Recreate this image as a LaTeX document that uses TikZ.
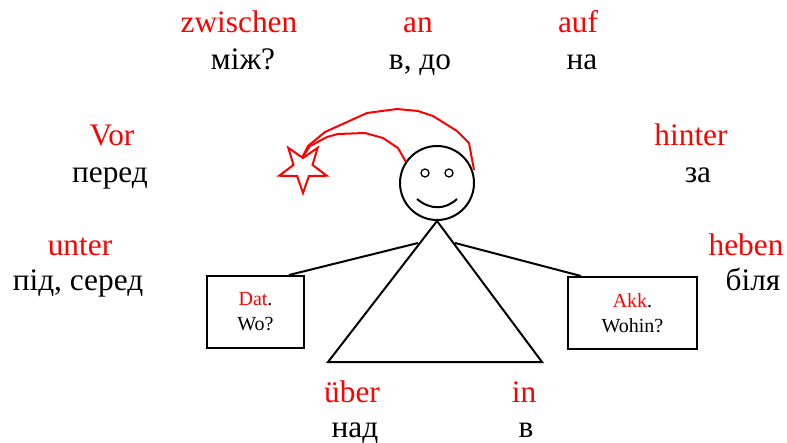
\documentclass[tikz,border=0pt]{standalone}
\usepackage{fontspec}
\setmainfont{Liberation Serif}
\usetikzlibrary{shapes.geometric}

\tikzset{
  de/.style={anchor=base, text=red, font=\fontsize{23.5}{28}\selectfont},
  ua/.style={anchor=base, font=\fontsize{23.5}{28}\selectfont},
  casebox/.style={draw, line width=1.5pt, align=center, inner sep=0pt,
    minimum height=54pt, font=\fontsize{15}{18.75}\selectfont},
}

\begin{document}
\begin{tikzpicture}[x=0.75pt, y=-0.75pt, line width=1.5pt]
  \useasboundingbox (0,0) rectangle (787,442);

  % prepositions, German above and Ukrainian below
  \node[de] (zwischen) at (239,33) {zwischen};
  \node[ua] (mizh) at (243,70) {між?};
  \node[de] (an) at (418,33) {an};
  \node[ua] (vdo) at (420,70) {в, до};
  \node[de] (auf) at (578,33) {auf};
  \node[ua] (na) at (582,70) {на};
  \node[de] (vor) at (112,145) {Vor};
  \node[ua] (pered) at (110,182) {перед};
  \node[de] (hinter) at (691,145) {hinter};
  \node[ua] (za) at (698,182) {за};
  \node[de] (unter) at (80,255) {unter};
  \node[ua] (pid) at (78,290) {під, серед};
  \node[de] (heben) at (746,255) {heben};
  \node[ua] (bilia) at (753,290) {біля};
  \node[de] (ueber) at (352,402) {über};
  \node[ua] (nad) at (355,437) {над};
  \node[de] (in) at (524,402) {in};
  \node[ua] (v) at (526,437) {в};

  % the little man
  \node[circle, draw, inner sep=0pt, minimum size=55.5pt] (head) at (437,183) {};
  \node[circle, draw, line width=1pt, inner sep=0pt, minimum size=6pt] (leye) at (425,173) {};
  \node[circle, draw, line width=1pt, inner sep=0pt, minimum size=6pt] (reye) at (449,173) {};
  \draw (417,199) .. controls (430,210) and (445,210) .. (457,199);
  \coordinate (lfoot) at (328,362);
  \coordinate (rfoot) at (542,362);
  \draw (head.south) -- (lfoot) -- (rfoot) -- cycle;
  \coordinate (lhand) at (418,243);
  \coordinate (rhand) at (455,243);

  % the two cases
  \node[casebox, minimum width=72.75pt] (dat) at (255.5,312) {\textcolor{red}{Dat}.\\Wo?};
  \node[casebox, minimum width=96.75pt] (akk) at (632.5,313) {\textcolor{red}{Akk}.\\Wohin?};
  \draw (lhand) -- ([xshift=-12pt]dat.north east);
  \draw (rhand) -- ([xshift=10.5pt]akk.north west);

  % star with its tail
  \node[star, star points=5, star point ratio=2.5, shape border rotate=180,
    draw=red, inner sep=0pt, minimum size=37.5pt] (star) at (303,168) {};
  \coordinate (tip) at (302,158);
  \draw[red, line join=round] (tip) -- (308,146) -- (325,132) -- (367,113) -- (397,109)
    -- (418,111) -- (433,116) -- (457,131) -- (469,143) -- (474,170);
  \draw[red, line join=round] (tip) -- (310,146) -- (327,137) -- (338,134) -- (365,133)
    -- (383,138) -- (398,148) -- (406,162);
\end{tikzpicture}
\end{document}
